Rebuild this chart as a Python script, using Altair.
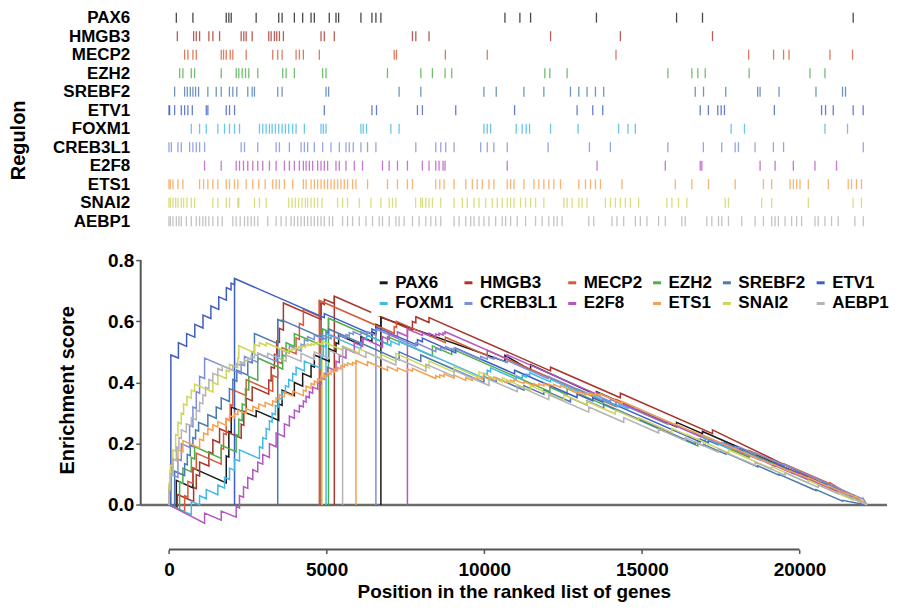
import altair as alt
import pandas as pd

REGULONS = ["PAX6", "HMGB3", "MECP2", "EZH2", "SREBF2", "ETV1",
            "FOXM1", "CREB3L1", "E2F8", "ETS1", "SNAI2", "AEBP1"]
COLORS = ["#1a1a1a", "#a8362a", "#d45a3a", "#4dae4a", "#4a7ab0", "#3f5ec2",
          "#45b8e6", "#7d8fd8", "#b457c0", "#f5a050", "#cfd65a", "#b4b4b4"]

# ---- hit positions (top barcode panel) ----
PAX6_HITS = [234, 760, 1817, 1899, 1975, 2766, 3482, 3589, 3978, 4241, 4507, 4611, 5085, 5298,
             5381, 6089, 6438, 6564, 6722, 10657, 11131, 11470, 13559, 16100, 16923, 21702]
HMGB3_HITS = [266, 782, 867, 972, 1266, 1393, 1605, 2291, 2374, 2450, 2640, 3165, 3241, 3345,
              3418, 3504, 3630, 4823, 4928, 5245, 7723, 7830, 8249, 12103, 14318, 17240]
MECP2_HITS = [497, 601, 760, 867, 1658, 1731, 1817, 1943, 2026, 2450, 3292, 3450, 3589, 4032,
              4137, 4263, 4770, 7144, 7216, 8767, 10096, 14179, 18386, 19178, 19494, 19667,
              20965, 21681]
EZH2_HITS = [339, 443, 709, 814, 1658, 2133, 2216, 2323, 2428, 2532, 2817, 3608, 3716, 3978,
             4874, 4982, 6931, 7989, 8356, 8758, 8970, 11922, 12081, 12628, 15825, 16585,
             16774, 17009, 18402, 20332, 20807]
SREBF2_HITS = [180, 497, 582, 677, 760, 845, 940, 1234, 1500, 1658, 1918, 2026, 2152, 2500,
               2640, 2712, 3450, 3589, 4982, 5064, 7300, 7988, 9990, 10381, 11258, 11891,
               12736, 12999, 13261, 13527, 13789, 16692, 16955, 17661, 18673, 18749, 19351,
               20522, 21364, 21459]
ETV1_HITS = [0, 22, 180, 392, 497, 601, 741, 1184, 1234, 1817, 1921, 2080, 4928, 6438, 6583,
             7881, 8039, 9096, 10963, 12945, 13442, 13759, 16851, 17109, 17407, 17515, 17619,
             19202, 20699, 20826, 21069, 21702, 22019]
FOXM1_HITS = [709, 971, 1184, 1551, 1763, 1921, 2080, 2238, 2871, 2975, 3083, 3187, 3273, 3377,
              3482, 3589, 3694, 3798, 3925, 4032, 4295, 4823, 4896, 4982, 6089, 6162, 6267,
              7039, 7300, 9990, 10096, 10203, 11014, 11204, 11331, 11438, 12103, 12977, 14262,
              14559, 14793, 17831, 18254, 20807, 21522]
CREB3L1_HITS = [0, 76, 285, 392, 655, 760, 867, 972, 1130, 2291, 2396, 2817, 3399, 3504, 3820,
                4190, 4295, 4399, 4611, 4874, 5140, 5403, 5615, 5719, 5846, 6089, 6298, 6564,
                7830, 8463, 8621, 8780, 9043, 9887, 10096, 10305, 10729, 12027, 13337, 14002,
                15825, 16950, 17534, 17958, 18063, 18591, 19171, 19494, 22023]
E2F8_HITS = [1130, 1658, 2133, 2238, 2364, 2500, 2659, 2817, 2975, 3187, 3399, 3662, 3820, 3978,
             4137, 4263, 4349, 4453, 4558, 4716, 4823, 4928, 5032, 5298, 5403, 5615, 5878, 6140,
             6773, 6985, 7248, 7564, 8039, 8249, 8463, 8567, 8694, 8758, 10729, 13578, 15743,
             16851, 16902, 18749, 19224, 19804, 20490, 21174]
ETS1_HITS = [0, 44, 127, 285, 443, 972, 1098, 1234, 1393, 1551, 1817, 1921, 2080, 2184, 2450,
             2659, 2849, 3051, 3292, 3399, 3504, 3662, 3925, 4263, 4349, 4507, 4611, 4716, 4823,
             4928, 5032, 5140, 5245, 5349, 5456, 5561, 5665, 5824, 5931, 6298, 6931, 7248, 7564,
             7723, 8463, 8590, 8726, 9043, 9413, 9622, 9780, 9938, 10150, 10308, 10729, 10837,
             10944, 11258, 11575, 11733, 11891, 12049, 12207, 12419, 12999, 13211, 13369, 13527,
             13686, 14369, 16059, 16585, 17113, 17958, 18855, 19117, 19699, 19804, 19908, 20015,
             20279, 20912, 21545, 21649, 21807, 21965]
SNAI2_HITS = [0, 44, 127, 212, 285, 392, 465, 570, 709, 814, 1393, 1551, 1817, 1921, 2184, 2216,
              2712, 2871, 3083, 3798, 3906, 4010, 4115, 4222, 4327, 4399, 4507, 4611, 4716, 4855,
              5349, 5507, 5665, 6035, 6406, 6722, 6985, 7090, 7197, 7824, 7983, 8039, 8147, 8251,
              8356, 8621, 9043, 9305, 9463, 9676, 9834, 10046, 10255, 10413, 10571, 10729, 10837,
              10944, 11153, 11311, 11470, 11628, 11891, 12524, 12628, 12787, 12999, 13103, 13261,
              13844, 14002, 14160, 14318, 14477, 14635, 14897, 15793, 15952, 16163, 16427, 17642,
              17746, 18800, 19117, 20279, 21702, 21965]
AEBP1_HITS = [0, 44, 127, 234, 317, 392, 551, 709, 867, 972, 1076, 1162, 1266, 1393, 1551, 1690,
              2026, 2133, 2260, 2396, 2500, 2608, 2712, 2817, 3133, 3399, 3557, 3716, 3874, 3978,
              4083, 4190, 4295, 4399, 4507, 4611, 4716, 4823, 4928, 5087, 5191, 5507, 5665, 5824,
              6035, 6248, 6457, 6668, 6773, 6985, 7197, 7300, 7459, 7723, 7935, 8147, 8305, 8463,
              8621, 9043, 9202, 9413, 9571, 9676, 9834, 9990, 10150, 10362, 10571, 10679, 10837,
              11046, 11311, 11628, 11837, 12049, 12207, 12312, 12470, 13315, 13473, 14053, 14211,
              14423, 14793, 14952, 15160, 15530, 15743, 16268, 16376, 17059, 17218, 17430, 17534,
              17746, 18167, 18591, 18855, 19117, 19224, 19329, 19541, 19750, 19908, 20066, 20490,
              20593, 20807, 21016, 21228, 21756, 22023]

# ---- running enrichment score curves (gene position, ES) ----
PAX6_ES = [(0, 0), (234, -0.01), (234, 0.08), (760, 0.056), (760, 0.12), (1817, 0.072), (1817, 0.16),
           (1899, 0.156), (1899, 0.24), (1975, 0.237), (1975, 0.32), (2766, 0.288), (2766, 0.308),
           (3482, 0.276), (3482, 0.33), (3589, 0.325), (3589, 0.375), (3978, 0.357), (3978, 0.40),
           (4241, 0.388), (4241, 0.43), (4507, 0.418), (4507, 0.455), (4611, 0.45), (4611, 0.49),
           (5085, 0.469), (5085, 0.51), (5298, 0.50), (5298, 0.53), (5381, 0.526), (5381, 0.555),
           (6089, 0.523), (6089, 0.55), (6438, 0.534), (6438, 0.565), (6564, 0.559), (6564, 0.59),
           (6722, 0.583), (6722, 0.613), (10657, 0.469), (10657, 0.489), (11470, 0.44), (11470, 0.458),
           (13559, 0.36), (13559, 0.37), (16100, 0.255), (16100, 0.27), (16923, 0.233), (16923, 0.24),
           (21702, 0.024), (21702, 0.03), (22140, 0)]
HMGB3_ES = [(0, 0), (266, -0.012), (266, 0.034), (782, 0.011), (782, 0.057), (867, 0.053), (867, 0.099),
            (972, 0.094), (972, 0.14), (1266, 0.127), (1266, 0.173), (1393, 0.167), (1393, 0.213),
            (1605, 0.203), (1605, 0.249), (2291, 0.218), (2291, 0.264), (2374, 0.26), (2374, 0.306),
            (2450, 0.303), (2450, 0.349), (2640, 0.34), (2640, 0.386), (3165, 0.362), (3165, 0.408),
            (3241, 0.405), (3241, 0.451), (3345, 0.446), (3345, 0.492), (3418, 0.489), (3418, 0.535),
            (3504, 0.531), (3504, 0.577), (3630, 0.571), (3630, 0.66), (4823, 0.606), (4823, 0.66),
            (4928, 0.655), (4928, 0.672), (5245, 0.658), (5245, 0.682), (7723, 0.57), (7723, 0.60),
            (7830, 0.595), (7830, 0.615), (8249, 0.596), (8249, 0.612), (12103, 0.438), (12103, 0.45),
            (14318, 0.35), (14318, 0.365), (17240, 0.233), (17240, 0.245), (22140, 0)]
MECP2_ES = [(0, 0), (497, -0.022), (497, 0.03), (601, 0.025), (601, 0.077), (760, 0.07), (760, 0.122),
            (867, 0.117), (867, 0.169), (1658, 0.133), (1658, 0.185), (1731, 0.182), (1731, 0.234),
            (1817, 0.23), (1817, 0.282), (1943, 0.276), (1943, 0.328), (2026, 0.324), (2026, 0.376),
            (2450, 0.357), (2450, 0.409), (3292, 0.371), (3292, 0.423), (3450, 0.416), (3450, 0.468),
            (3589, 0.462), (3589, 0.514), (4032, 0.494), (4032, 0.546), (4137, 0.541), (4137, 0.593),
            (4263, 0.587), (4263, 0.639), (4770, 0.616), (4770, 0.668), (7144, 0.561), (7144, 0.583),
            (7216, 0.58), (7216, 0.60), (8767, 0.53), (8767, 0.548), (10096, 0.488), (10096, 0.505),
            (14179, 0.321), (14179, 0.345), (18386, 0.156), (18386, 0.178), (19494, 0.128),
            (19494, 0.135), (20965, 0.069), (20965, 0.072), (22140, 0)]
EZH2_ES = [(0, 0), (339, -0.015), (339, 0.075), (443, 0.07), (443, 0.12), (709, 0.108), (709, 0.155),
           (814, 0.15), (814, 0.19), (1658, 0.152), (1658, 0.195), (2133, 0.173), (2133, 0.23),
           (2216, 0.226), (2216, 0.28), (2323, 0.275), (2323, 0.33), (2428, 0.325), (2428, 0.38),
           (2532, 0.375), (2532, 0.42), (2817, 0.407), (2817, 0.48), (3608, 0.444), (3608, 0.49),
           (3716, 0.485), (3716, 0.53), (3978, 0.518), (3978, 0.56), (4874, 0.52), (4874, 0.575),
           (5060, 0.567), (5060, 0.61), (6931, 0.526), (6931, 0.55), (8356, 0.486), (8356, 0.52),
           (8970, 0.492), (8970, 0.51), (12081, 0.37), (12081, 0.385), (12628, 0.36), (12628, 0.38),
           (16774, 0.193), (16774, 0.215), (17009, 0.204), (17009, 0.22), (18402, 0.157), (18402, 0.17),
           (20807, 0.062), (20807, 0.07), (22140, 0)]
SREBF2_ES = [(0, 0), (180, -0.008), (180, 0.11), (497, 0.096), (497, 0.135), (582, 0.131), (582, 0.165),
             (677, 0.161), (677, 0.195), (760, 0.191), (760, 0.22), (845, 0.216), (845, 0.245),
             (940, 0.241), (940, 0.27), (1234, 0.257), (1234, 0.295), (1500, 0.283), (1500, 0.32),
             (1658, 0.313), (1658, 0.35), (1918, 0.338), (1918, 0.38), (2026, 0.375), (2026, 0.41),
             (2152, 0.404), (2152, 0.44), (2500, 0.424), (2500, 0.47), (2640, 0.464), (2640, 0.50),
             (2712, 0.497), (2712, 0.56), (3450, 0.527), (3450, 0.606), (3589, 0.60), (3589, 0.604),
             (4982, 0.541), (4982, 0.565), (5064, 0.561), (5064, 0.575), (7300, 0.474), (7300, 0.50),
             (7988, 0.469), (7988, 0.49), (9990, 0.40), (9990, 0.42), (10381, 0.402), (10381, 0.415),
             (11258, 0.375), (11258, 0.39), (11891, 0.361), (11891, 0.375), (12736, 0.337),
             (12736, 0.35), (13261, 0.326), (13261, 0.34), (13789, 0.316), (13789, 0.33),
             (16692, 0.199), (16692, 0.205), (16955, 0.193), (16955, 0.198), (17661, 0.166),
             (17661, 0.17), (18673, 0.124), (18673, 0.128), (19351, 0.097), (19351, 0.10),
             (20522, 0.047), (20522, 0.05), (21364, 0.012), (21364, 0.015), (22140, 0)]
ETV1_ES = [(0, 0), (60, 0), (60, 0.49), (300, 0.48), (300, 0.53), (560, 0.518), (560, 0.56),
           (820, 0.548), (820, 0.59), (1080, 0.578), (1080, 0.62), (1330, 0.609), (1330, 0.65),
           (1580, 0.639), (1580, 0.68), (1820, 0.669), (1820, 0.71), (1970, 0.703), (1970, 0.725),
           (2080, 0.72), (2080, 0.74), (4928, 0.612), (4928, 0.625), (6438, 0.557), (6438, 0.575),
           (6583, 0.568), (6583, 0.58), (7881, 0.522), (7881, 0.54), (8039, 0.533), (8039, 0.545),
           (9096, 0.497), (9096, 0.512), (10963, 0.428), (10963, 0.44), (12945, 0.351), (12945, 0.362),
           (13442, 0.34), (13442, 0.35), (13759, 0.336), (13759, 0.345), (16851, 0.206), (16851, 0.215),
           (17109, 0.203), (17109, 0.21), (17407, 0.197), (17407, 0.203), (17619, 0.198), (17619, 0.203),
           (19202, 0.132), (19202, 0.137), (20699, 0.07), (20699, 0.074), (21069, 0.057), (21069, 0.06),
           (22140, 0)]
FOXM1_ES = [(0, 0), (709, -0.032), (709, 0.012), (971, 0.0), (971, 0.03), (1184, 0.02), (1184, 0.05),
            (1551, 0.033), (1551, 0.065), (1763, 0.055), (1763, 0.09), (1921, 0.083), (1921, 0.12),
            (2080, 0.113), (2080, 0.15), (2238, 0.143), (2238, 0.18), (2871, 0.151), (2871, 0.19),
            (2975, 0.185), (2975, 0.22), (3083, 0.215), (3083, 0.25), (3187, 0.245), (3187, 0.275),
            (3273, 0.271), (3273, 0.30), (3377, 0.295), (3377, 0.325), (3482, 0.32), (3482, 0.35),
            (3589, 0.345), (3589, 0.37), (3694, 0.365), (3694, 0.39), (3798, 0.385), (3798, 0.41),
            (3925, 0.404), (3925, 0.43), (4032, 0.425), (4032, 0.45), (4295, 0.438), (4295, 0.47),
            (4823, 0.446), (4823, 0.49), (4896, 0.487), (4896, 0.52), (4982, 0.516), (4982, 0.56),
            (6089, 0.51), (6089, 0.53), (6162, 0.527), (6162, 0.545), (6267, 0.54), (6267, 0.555),
            (7039, 0.52), (7039, 0.535), (7300, 0.523), (7300, 0.535), (9990, 0.414), (9990, 0.43),
            (10096, 0.425), (10096, 0.44), (10203, 0.435), (10203, 0.448), (11014, 0.411),
            (11014, 0.422), (11204, 0.413), (11204, 0.424), (11331, 0.418), (11331, 0.428),
            (11438, 0.423), (11438, 0.432), (12103, 0.402), (12103, 0.41), (12977, 0.37),
            (12977, 0.378), (14262, 0.32), (14262, 0.328), (14559, 0.315), (14559, 0.322),
            (14793, 0.311), (14793, 0.318), (17831, 0.181), (17831, 0.187), (18254, 0.168),
            (18254, 0.173), (20807, 0.058), (20807, 0.062), (21522, 0.03), (21522, 0.032), (22140, 0)]
CREB3L1_ES = [(0, 0), (0, 0.05), (76, 0.047), (76, 0.10), (285, 0.09), (285, 0.15), (392, 0.145),
              (392, 0.20), (655, 0.188), (655, 0.26), (760, 0.255), (760, 0.32), (867, 0.315),
              (867, 0.37), (972, 0.365), (972, 0.42), (1130, 0.413), (1130, 0.48), (2291, 0.428),
              (2291, 0.46), (2396, 0.455), (2396, 0.485), (2817, 0.466), (2817, 0.495), (3399, 0.469),
              (3399, 0.49), (3504, 0.485), (3504, 0.51), (3820, 0.496), (3820, 0.52), (4190, 0.503),
              (4190, 0.525), (4295, 0.52), (4295, 0.54), (4399, 0.535), (4399, 0.55), (4611, 0.54),
              (4611, 0.555), (4874, 0.543), (4874, 0.555), (5140, 0.543), (5140, 0.555), (5403, 0.543),
              (5403, 0.555), (5615, 0.545), (5615, 0.557), (5719, 0.552), (5719, 0.563), (5846, 0.557),
              (5846, 0.566), (6089, 0.555), (6089, 0.566), (6298, 0.557), (6298, 0.566), (6564, 0.554),
              (6564, 0.575), (7830, 0.518), (7830, 0.53), (8463, 0.501), (8463, 0.512), (8621, 0.505),
              (8621, 0.515), (8780, 0.508), (8780, 0.517), (9043, 0.505), (9043, 0.513), (9887, 0.475),
              (9887, 0.485), (10096, 0.476), (10096, 0.485), (10305, 0.476), (10305, 0.484),
              (10729, 0.465), (10729, 0.472), (12027, 0.413), (12027, 0.42), (13337, 0.361),
              (13337, 0.368), (14002, 0.338), (14002, 0.345), (15825, 0.263), (15825, 0.27),
              (16950, 0.219), (16950, 0.225), (17534, 0.199), (17534, 0.204), (17958, 0.185),
              (17958, 0.19), (18063, 0.185), (18063, 0.19), (18591, 0.166), (18591, 0.17),
              (19171, 0.144), (19171, 0.146), (19494, 0.131), (19494, 0.133), (22023, 0.019),
              (22023, 0.02), (22140, 0)]
E2F8_ES = [(0, 0), (1130, -0.06), (1130, -0.027), (1658, -0.05), (1658, -0.02), (2133, -0.04),
           (2133, -0.005), (2238, -0.01), (2238, 0.03), (2364, 0.025), (2364, 0.06), (2500, 0.054),
           (2500, 0.09), (2659, 0.083), (2659, 0.115), (2817, 0.108), (2817, 0.14), (2975, 0.133),
           (2975, 0.165), (3187, 0.155), (3187, 0.2), (3399, 0.19), (3399, 0.235), (3662, 0.223),
           (3662, 0.265), (3820, 0.258), (3820, 0.29), (3978, 0.283), (3978, 0.31), (4137, 0.303),
           (4137, 0.325), (4263, 0.32), (4263, 0.34), (4349, 0.336), (4349, 0.355), (4453, 0.35),
           (4453, 0.37), (4558, 0.365), (4558, 0.385), (4716, 0.378), (4716, 0.40), (4823, 0.395),
           (4823, 0.415), (4928, 0.41), (4928, 0.43), (5032, 0.425), (5032, 0.45), (5298, 0.438),
           (5298, 0.47), (5403, 0.465), (5403, 0.49), (5615, 0.48), (5615, 0.51), (5878, 0.498),
           (5878, 0.53), (6140, 0.518), (6140, 0.545), (6773, 0.516), (6773, 0.55), (6985, 0.54),
           (6985, 0.56), (7248, 0.548), (7248, 0.565), (7564, 0.551), (7564, 0.575), (8039, 0.554),
           (8039, 0.562), (8249, 0.553), (8249, 0.561), (8463, 0.551), (8463, 0.559), (8567, 0.554),
           (8567, 0.561), (8694, 0.555), (8694, 0.562), (8758, 0.559), (8758, 0.566), (10729, 0.477),
           (10729, 0.49), (13578, 0.361), (13578, 0.367), (15743, 0.269), (15743, 0.274),
           (16851, 0.224), (16851, 0.228), (16902, 0.226), (16902, 0.229), (18749, 0.146),
           (18749, 0.148), (19224, 0.126), (19224, 0.128), (19804, 0.102), (19804, 0.104),
           (20490, 0.073), (20490, 0.075), (21174, 0.044), (21174, 0.046), (22140, 0)]
ETS1_ES = [(0, 0), (0, 0.06), (44, 0.058), (44, 0.11), (127, 0.106), (127, 0.15), (285, 0.143),
           (285, 0.18), (443, 0.173), (443, 0.21), (972, 0.186), (972, 0.215), (1098, 0.21),
           (1098, 0.235), (1234, 0.229), (1234, 0.25), (1393, 0.243), (1393, 0.262), (1551, 0.255),
           (1551, 0.272), (1817, 0.26), (1817, 0.28), (1921, 0.275), (1921, 0.292), (2080, 0.285),
           (2080, 0.30), (2184, 0.295), (2184, 0.31), (2450, 0.298), (2450, 0.315), (2659, 0.306),
           (2659, 0.322), (2849, 0.313), (2849, 0.33), (3051, 0.321), (3051, 0.335), (3292, 0.324),
           (3292, 0.34), (3399, 0.335), (3399, 0.35), (3504, 0.345), (3504, 0.36), (3662, 0.353),
           (3662, 0.368), (3925, 0.356), (3925, 0.372), (4263, 0.357), (4263, 0.375), (4349, 0.371),
           (4349, 0.388), (4507, 0.381), (4507, 0.397), (4611, 0.392), (4611, 0.405), (4716, 0.40),
           (4716, 0.412), (4823, 0.407), (4823, 0.419), (4928, 0.414), (4928, 0.426), (5032, 0.421),
           (5032, 0.432), (5140, 0.427), (5140, 0.438), (5245, 0.433), (5245, 0.444), (5349, 0.439),
           (5349, 0.449), (5456, 0.444), (5456, 0.455), (5561, 0.45), (5561, 0.46), (5665, 0.455),
           (5665, 0.464), (5824, 0.457), (5824, 0.466), (5931, 0.461), (5931, 0.472), (6298, 0.455),
           (6298, 0.468), (6931, 0.44), (6931, 0.452), (7248, 0.438), (7248, 0.448), (7564, 0.434),
           (7564, 0.444), (7723, 0.437), (7723, 0.446), (8463, 0.413), (8463, 0.422), (8590, 0.416),
           (8590, 0.425), (8726, 0.419), (8726, 0.428), (9043, 0.414), (9043, 0.424), (9413, 0.407),
           (9413, 0.416), (9622, 0.407), (9622, 0.416), (9780, 0.409), (9780, 0.418), (9938, 0.411),
           (9938, 0.42), (10150, 0.41), (10150, 0.418), (10308, 0.411), (10308, 0.418),
           (10729, 0.399), (10729, 0.406), (10837, 0.401), (10837, 0.408), (10944, 0.403),
           (10944, 0.41), (11258, 0.396), (11258, 0.403), (11575, 0.389), (11575, 0.396),
           (11733, 0.389), (11733, 0.396), (11891, 0.389), (11891, 0.396), (12049, 0.389),
           (12049, 0.395), (12207, 0.388), (12207, 0.394), (12419, 0.384), (12419, 0.39),
           (12999, 0.364), (12999, 0.37), (13211, 0.36), (13211, 0.366), (13369, 0.359),
           (13369, 0.365), (13527, 0.358), (13527, 0.364), (13686, 0.357), (13686, 0.363),
           (14369, 0.332), (14369, 0.338), (16059, 0.262), (16059, 0.264), (16585, 0.24),
           (16585, 0.242), (17113, 0.218), (17113, 0.22), (17958, 0.182), (17958, 0.184),
           (18855, 0.143), (18855, 0.145), (19117, 0.133), (19117, 0.135), (19699, 0.109),
           (19699, 0.111), (20015, 0.097), (20015, 0.099), (20279, 0.087), (20279, 0.089),
           (20912, 0.06), (20912, 0.062), (21545, 0.034), (21545, 0.036), (21807, 0.024),
           (21807, 0.026), (22140, 0)]
SNAI2_ES = [(0, 0), (0, 0.07), (44, 0.068), (44, 0.13), (127, 0.126), (127, 0.18), (212, 0.176),
            (212, 0.23), (285, 0.227), (285, 0.27), (392, 0.265), (392, 0.30), (465, 0.297),
            (465, 0.33), (570, 0.325), (570, 0.355), (709, 0.349), (709, 0.375), (814, 0.37),
            (814, 0.395), (1393, 0.369), (1393, 0.40), (1551, 0.393), (1551, 0.425), (1817, 0.413),
            (1817, 0.44), (1921, 0.435), (1921, 0.46), (2184, 0.448), (2184, 0.48), (2216, 0.479),
            (2216, 0.52), (2712, 0.497), (2712, 0.525), (2871, 0.518), (2871, 0.53), (3083, 0.52),
            (3083, 0.53), (3798, 0.498), (3798, 0.508), (3906, 0.503), (3906, 0.511), (4010, 0.506),
            (4010, 0.514), (4115, 0.509), (4115, 0.517), (4222, 0.512), (4222, 0.52), (4327, 0.515),
            (4327, 0.523), (4399, 0.52), (4399, 0.526), (4507, 0.521), (4507, 0.527), (4611, 0.522),
            (4611, 0.529), (4716, 0.524), (4716, 0.53), (4855, 0.524), (4855, 0.535), (5507, 0.506),
            (5507, 0.52), (6035, 0.496), (6035, 0.51), (6722, 0.478), (6722, 0.492), (7197, 0.47),
            (7197, 0.495), (8251, 0.447), (8251, 0.47), (9043, 0.434), (9043, 0.452), (9834, 0.416),
            (9834, 0.435), (10571, 0.402), (10571, 0.415), (11470, 0.374), (11470, 0.39),
            (12524, 0.342), (12524, 0.36), (13261, 0.327), (13261, 0.338), (14160, 0.297),
            (14160, 0.31), (14897, 0.277), (14897, 0.285), (15952, 0.237), (15952, 0.25),
            (16427, 0.228), (16427, 0.23), (17746, 0.17), (17746, 0.18), (19117, 0.118),
            (19117, 0.125), (20279, 0.072), (20279, 0.08), (21702, 0.016), (21702, 0.022), (22140, 0)]
AEBP1_ES = [(0, 0), (0, 0.05), (44, 0.048), (44, 0.10), (127, 0.096), (127, 0.15), (234, 0.145),
            (234, 0.19), (317, 0.186), (317, 0.22), (392, 0.217), (392, 0.245), (551, 0.238),
            (551, 0.265), (709, 0.258), (709, 0.285), (867, 0.278), (867, 0.31), (972, 0.305),
            (972, 0.335), (1076, 0.33), (1076, 0.36), (1162, 0.356), (1162, 0.385), (1266, 0.38),
            (1266, 0.41), (1393, 0.404), (1393, 0.43), (1551, 0.423), (1551, 0.445), (1690, 0.439),
            (1690, 0.455), (2026, 0.44), (2026, 0.455), (2133, 0.45), (2133, 0.462), (2260, 0.456),
            (2260, 0.468), (2396, 0.462), (2396, 0.474), (2500, 0.469), (2500, 0.48), (2608, 0.475),
            (2608, 0.486), (2712, 0.481), (2712, 0.492), (2817, 0.487), (2817, 0.497), (3133, 0.483),
            (3133, 0.495), (3716, 0.469), (3716, 0.49), (4190, 0.469), (4190, 0.495), (4611, 0.476),
            (4611, 0.50), (5087, 0.478), (5087, 0.505), (5507, 0.486), (5507, 0.516), (6248, 0.482),
            (6248, 0.50), (7197, 0.457), (7197, 0.48), (8147, 0.437), (8147, 0.46), (9043, 0.42),
            (9043, 0.44), (10150, 0.39), (10150, 0.41), (11046, 0.37), (11046, 0.39), (12049, 0.344),
            (12049, 0.36), (13315, 0.303), (13315, 0.32), (14423, 0.27), (14423, 0.285),
            (15530, 0.235), (15530, 0.248), (16376, 0.21), (16376, 0.22), (17430, 0.172),
            (17430, 0.182), (18591, 0.13), (18591, 0.14), (19541, 0.097), (19541, 0.105),
            (20593, 0.057), (20593, 0.065), (21228, 0.036), (21228, 0.042), (22140, 0)]

# ---- leading-edge markers (vertical lines) ----
PEAK_REGULON = ["ETV1", "SREBF2", "MECP2", "HMGB3", "SNAI2", "FOXM1", "EZH2", "HMGB3",
                "AEBP1", "ETS1", "CREB3L1", "PAX6", "E2F8"]
PEAK_GENE = [2080, 3450, 4770, 4823, 4855, 4982, 5060, 5245, 5507, 5931, 6564, 6722, 7564]
PEAK_ES = [0.74, 0.606, 0.668, 0.66, 0.535, 0.56, 0.61, 0.682, 0.516, 0.472, 0.575, 0.613, 0.575]

X_MIN, X_MAX = -896, 22775
Y_MIN, Y_MAX = -0.1456, 0.8
X_TICKS = [0, 5000, 10000, 15000, 20000]
Y_TICKS = [0.0, 0.2, 0.4, 0.6, 0.8]
X_AXIS_END = 20000

HITS = [PAX6_HITS, HMGB3_HITS, MECP2_HITS, EZH2_HITS, SREBF2_HITS, ETV1_HITS,
        FOXM1_HITS, CREB3L1_HITS, E2F8_HITS, ETS1_HITS, SNAI2_HITS, AEBP1_HITS]
CURVES = [PAX6_ES, HMGB3_ES, MECP2_ES, EZH2_ES, SREBF2_ES, ETV1_ES,
          FOXM1_ES, CREB3L1_ES, E2F8_ES, ETS1_ES, SNAI2_ES, AEBP1_ES]

hits_df = pd.DataFrame([{"regulon": r, "gene": g} for r, hs in zip(REGULONS, HITS) for g in hs])
curve_df = pd.DataFrame([{"regulon": r, "idx": i, "gene": g, "es": e}
                         for r, pts in zip(REGULONS, CURVES) for i, (g, e) in enumerate(pts)])
peak_df = pd.DataFrame({"regulon": PEAK_REGULON, "gene": PEAK_GENE,
                        "es": [0.0] * len(PEAK_GENE), "es2": PEAK_ES})
zero_df = pd.DataFrame({"gene": [X_MIN], "gene2": [X_MAX], "es": [0.0]})
yline_df = pd.DataFrame({"gene": [X_MIN], "es": [0.0], "es2": [Y_MAX]})
xline_df = pd.DataFrame({"gene": [0], "gene2": [X_AXIS_END], "es": [Y_MIN]})

FONT = "Liberation Sans, Arial, sans-serif"
W = 748

color_scale = alt.Scale(domain=REGULONS, range=COLORS)
x_scale = alt.Scale(domain=[X_MIN, X_MAX], nice=False, zero=False)
y_scale = alt.Scale(domain=[Y_MIN, Y_MAX], nice=False, zero=False)

# ---------- top barcode panel ----------
top = alt.Chart(hits_df).mark_tick(thickness=1.3, size=10, opacity=0.8).encode(
    x=alt.X("gene:Q", scale=x_scale, axis=None),
    y=alt.Y("regulon:N", sort=REGULONS,
            scale=alt.Scale(type="point", padding=0.2157),
            axis=alt.Axis(title="Regulon", titleFont=FONT, titleFontSize=20,
                          titleFontWeight="bold", titleColor="black", titlePadding=24,
                          titleY=126.5, labelFont=FONT, labelFontSize=17,
                          labelFontWeight="bold", labelColor="black", labelPadding=11,
                          ticks=False, tickSize=0, domain=False, labelLimit=0)),
    color=alt.Color("regulon:N", scale=color_scale, legend=None),
).properties(width=W, height=212)

# ---------- bottom enrichment panel ----------
x_axis = alt.Axis(values=X_TICKS, format="d", domain=False, grid=False, tickSize=4,
                  tickColor="#555555", tickWidth=1.5, labelPadding=7, labelFont=FONT,
                  labelFontSize=19, labelFontWeight="bold", labelColor="black",
                  labelFlush=False, title="Position in the ranked list of genes",
                  titleFont=FONT, titleFontSize=19, titleFontWeight="bold",
                  titleColor="black", titlePadding=3)
y_axis = alt.Axis(values=Y_TICKS, format=".1f", domain=False, grid=False, tickSize=5,
                  tickColor="#555555", tickWidth=1.5, labelPadding=2, labelFont=FONT,
                  labelFontSize=19, labelFontWeight="bold", labelColor="black",
                  title="Enrichment score", titleFont=FONT, titleFontSize=20,
                  titleFontWeight="bold", titleColor="black", titlePadding=30, titleY=130)

legend = alt.Legend(title=None, orient="none", legendX=231, legendY=10,
                    direction="horizontal", columns=6, gridAlign="each",
                    symbolType="stroke", symbolSize=64,
                    symbolStrokeWidth=3, labelFont=FONT, labelFontSize=17,
                    labelFontWeight="bold", labelColor="black",
                    labelOffset=3, columnPadding=4, rowPadding=3,
                    padding=4, fillColor="white", zindex=1, labelLimit=0)

X = alt.X("gene:Q", scale=x_scale, axis=x_axis)
Y = alt.Y("es:Q", scale=y_scale, axis=y_axis)
C = alt.Color("regulon:N", scale=color_scale, sort=REGULONS, legend=legend)

zero_line = alt.Chart(zero_df).mark_rule(color="#6b6b6b", strokeWidth=2.5).encode(
    x=X, x2="gene2:Q", y=Y)
y_line = alt.Chart(yline_df).mark_rule(color="#555555", strokeWidth=2).encode(
    x=X, y=Y, y2="es2:Q")
x_line = alt.Chart(xline_df).mark_rule(color="#555555", strokeWidth=2).encode(
    x=X, x2="gene2:Q", y=Y)
peaks = alt.Chart(peak_df).mark_rule(strokeWidth=1.5).encode(
    x=X, y=Y, y2="es2:Q", color=C)
lines = alt.Chart(curve_df).mark_line(strokeWidth=1.5).encode(
    x=X, y=Y, order=alt.Order("idx:Q"), color=C)

bottom = alt.layer(zero_line, peaks, lines, y_line, x_line).properties(width=W, height=290)

chart = alt.vconcat(top, bottom, spacing=22).resolve_scale(
    color="independent", x="independent", y="independent"
).resolve_legend(color="independent").properties(
    padding={"left": 0, "top": 0, "right": 0, "bottom": 0},
    background="white",
).configure_view(stroke=None).configure_axis(grid=False)

chart.save("out.html", embed_options={"renderer": "svg", "actions": False})
